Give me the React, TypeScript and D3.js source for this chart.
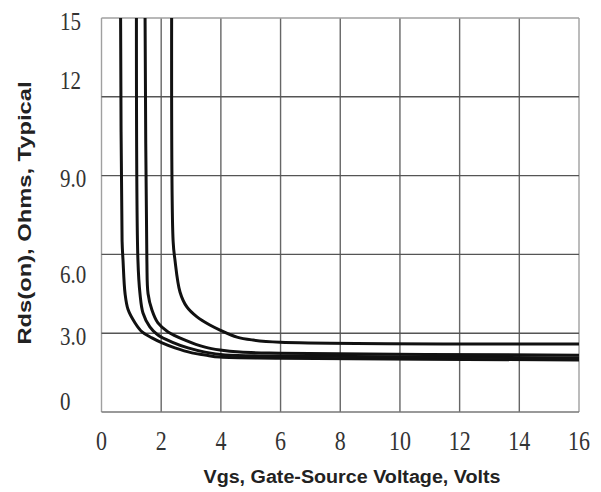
import React, { useEffect, useRef } from 'react'
import * as d3 from 'd3'

// Rds(on) vs Vgs, four typical curves: [Vgs, Rds]
const curveA: [number, number][] = [
    [0.64, 15], [0.69, 6.5], [0.72, 5.8], [0.79, 4.5], [0.89, 3.9], [1.12, 3.4],
    [1.36, 3.05], [1.69, 2.82], [2.03, 2.63], [2.46, 2.44], [3.03, 2.25],
    [3.47, 2.17], [3.97, 2.09], [6.0, 2.05], [16, 1.98],
]
const curveB: [number, number][] = [
    [1.17, 15], [1.22, 5.8], [1.29, 4.5], [1.39, 3.77], [1.62, 3.24], [1.89, 2.93],
    [2.36, 2.66], [2.9, 2.44], [3.47, 2.28], [4.14, 2.17], [6.0, 2.13], [16, 2.06],
]
const curveC: [number, number][] = [
    [1.46, 15], [1.52, 5.8], [1.56, 4.5], [1.69, 3.88], [1.89, 3.39], [2.23, 3.05],
    [2.8, 2.74], [3.47, 2.47], [3.97, 2.36], [4.64, 2.28], [6.0, 2.24], [16, 2.16],
]
const curveD: [number, number][] = [
    [2.35, 15], [2.4, 6.5], [2.46, 5.8], [2.63, 4.57], [2.86, 4.0], [3.2, 3.62],
    [3.63, 3.31], [3.97, 3.12], [4.54, 2.85], [5.08, 2.74], [5.98, 2.66], [16, 2.59],
]

const xTicks = [0, 2, 4, 6, 8, 10, 12, 14, 16]
const yTicks = [0, 3, 6, 9, 12, 15]
const yTickLabels = ['0', '3.0', '6.0', '9.0', '12', '15']

const xTitle = 'Vgs, Gate-Source Voltage, Volts'
const yTitle = 'Rds(on), Ohms, Typical'

// the scanned labels don't sit exactly on their gridlines
const yLabelNudge = [-11, 3, 20, 3, -16, 3]

const W = 601
const H = 492

const App = () => {
    const ref = useRef<SVGSVGElement | null>(null)

    useEffect(() => {
        const svg = d3.select(ref.current)
        svg.selectAll('*').remove()

        const x = d3.scaleLinear().domain([0, 16]).range([101.5, 579])
        const y = d3.scaleLinear().domain([0, 15]).range([412, 18])

        svg.append('rect')
            .attr('width', W)
            .attr('height', H)
            .attr('fill', '#fff')

        const grid = svg.append('g')

        // vertical gridlines
        grid.selectAll('line.v')
            .data(xTicks)
            .join('line')
            .attr('class', 'v')
            .attr('x1', d => x(d))
            .attr('x2', d => x(d))
            .attr('y1', y(15))
            .attr('y2', y(0))
            .attr('stroke', d => (d === 0 || d === 16) ? '#a0a0a0' : '#666')
            .attr('stroke-width', 1.4)

        // horizontal gridlines
        grid.selectAll('line.h')
            .data(yTicks)
            .join('line')
            .attr('class', 'h')
            .attr('x1', x(0))
            .attr('x2', x(16))
            .attr('y1', d => y(d))
            .attr('y2', d => y(d))
            .attr('stroke', d => d === 15 ? '#a0a0a0' : d === 0 ? '#777' : '#555')
            .attr('stroke-width', 1.4)

        const line = d3.line<[number, number]>()
            .x(d => x(d[0]))
            .y(d => y(d[1]))
            .curve(d3.curveCatmullRom.alpha(0.5))

        svg.append('g')
            .selectAll('path')
            .data([curveA, curveB, curveC, curveD])
            .join('path')
            .attr('d', d => line(d))
            .attr('fill', 'none')
            .attr('stroke', '#111')
            .attr('stroke-width', 3)
            .attr('stroke-linejoin', 'round')

        // x tick labels
        svg.append('g')
            .selectAll('text')
            .data(xTicks)
            .join('text')
            .attr('transform', d => `translate(${x(d)},441) scale(1,1.2)`)
            .attr('text-anchor', 'middle')
            .attr('dominant-baseline', 'central')
            .attr('font-family', '"Liberation Serif", "Times New Roman", serif')
            .attr('font-size', 22)
            .attr('fill', '#333')
            .text(d => d)

        // y tick labels
        svg.append('g')
            .selectAll('text')
            .data(yTicks)
            .join('text')
            .attr('transform', (d, i) => `translate(60,${y(d) + yLabelNudge[i]}) scale(1,1.2)`)
            .attr('text-anchor', 'start')
            .attr('dominant-baseline', 'central')
            .attr('font-family', '"Liberation Serif", "Times New Roman", serif')
            .attr('font-size', 21)
            .attr('fill', '#333')
            .text((d, i) => yTickLabels[i])

        svg.append('text')
            .attr('x', 352)
            .attr('y', 477)
            .attr('text-anchor', 'middle')
            .attr('dominant-baseline', 'central')
            .attr('font-family', '"Liberation Sans", Arial, sans-serif')
            .attr('font-weight', 'bold')
            .attr('font-size', 18)
            .attr('textLength', 297)
            .attr('lengthAdjust', 'spacingAndGlyphs')
            .attr('fill', '#222')
            .text(xTitle)

        svg.append('text')
            .attr('transform', 'translate(24,213) rotate(-90)')
            .attr('text-anchor', 'middle')
            .attr('dominant-baseline', 'central')
            .attr('font-family', '"Liberation Sans", Arial, sans-serif')
            .attr('font-weight', 'bold')
            .attr('font-size', 19)
            .attr('textLength', 263)
            .attr('lengthAdjust', 'spacingAndGlyphs')
            .attr('fill', '#222')
            .text(yTitle)
    }, [])

    return (
        <svg
            ref={ref}
            width={W}
            height={H}
            viewBox={`0 0 ${W} ${H}`}
            style={{ position: 'absolute', left: 0, top: 0, display: 'block' }}
        />
    )
}

export default App
